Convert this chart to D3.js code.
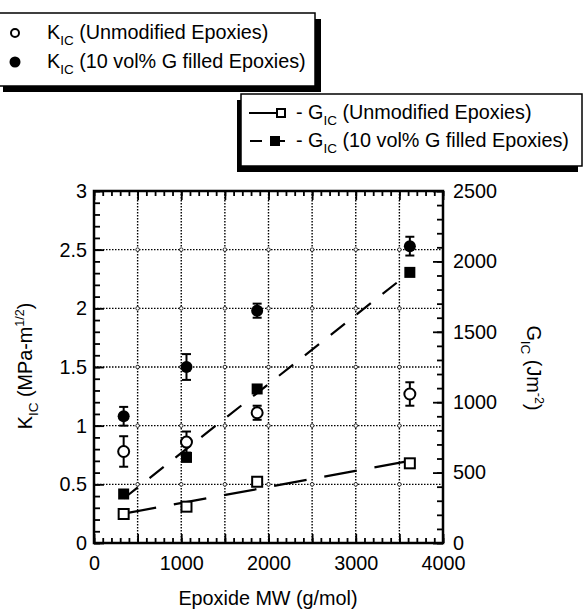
<!DOCTYPE html>
<html lang="en">
<head>
<meta charset="utf-8">
<title>KIC and GIC vs Epoxide MW</title>
<style>
  body { margin: 0; background: #fff; }
  text { font-family: "Liberation Sans", Arial, Helvetica, sans-serif; fill: #000; }
</style>
</head>
<body>
<div id="chart"></div>
<script src="https://cdnjs.cloudflare.com/ajax/libs/d3/7.8.5/d3.min.js"></script>
<script type="text/javascript">

    // epoxide molecular weight (g/mol)
    var epoxideMW = [340, 1060, 1870, 3620];

    // K_IC (MPa m^1/2) with error bars
    var kicUnmod = [0.78, 0.86, 1.11, 1.27];
    var kicUnmodErr = [0.13, 0.09, 0.06, 0.10];
    var kicFilled = [1.08, 1.50, 1.98, 2.53];
    var kicFilledErr = [0.08, 0.11, 0.06, 0.08];

    // G_IC (J m^-2)
    var gicUnmod = [206, 258, 435, 566];
    var gicFilled = [348, 608, 1094, 1922];

    var xTicks = [0, 1000, 2000, 3000, 4000];
    var kTicks = [0, 0.5, 1, 1.5, 2, 2.5, 3];
    var gTicks = [0, 500, 1000, 1500, 2000, 2500];

    var W = 583, H = 615;
    var plotL = 94, plotR = 443, plotT = 191, plotB = 543;
    var fontSize = 19.8;

    var svg = d3.select("#chart").append("svg")
                .attr("width", W)
                .attr("height", H);

    var x = d3.scaleLinear().domain([0, 4000]).range([plotL, plotR]);
    var yK = d3.scaleLinear().domain([0, 3]).range([plotB, plotT]);
    var yG = d3.scaleLinear().domain([0, 2500]).range([plotB, plotT]);

    //Grid
    var gridX = d3.range(500, 4000, 500);
    var gridY = kTicks.slice(1, -1);
    svg.append("g").selectAll("line").data(gridX).enter().append("line")
       .attr("x1", function(d){return x(d);})
       .attr("x2", function(d){return x(d);})
       .attr("y1", plotT).attr("y2", plotB)
       .attr("stroke", "#000").attr("stroke-width", 1.4)
       .attr("stroke-dasharray", "1.5,1.5");
    svg.append("g").selectAll("line").data(gridY).enter().append("line")
       .attr("y1", function(d){return yK(d);})
       .attr("y2", function(d){return yK(d);})
       .attr("x1", plotL).attr("x2", plotR)
       .attr("stroke", "#000").attr("stroke-width", 1.4)
       .attr("stroke-dasharray", "1.5,1.5");
    var nodes = [];
    gridX.forEach(function(a){ gridY.forEach(function(b){ nodes.push([a, b]); }); });
    svg.append("g").selectAll("circle").data(nodes).enter().append("circle")
       .attr("cx", function(d){return x(d[0]);})
       .attr("cy", function(d){return yK(d[1]);})
       .attr("r", 1.8)
       .attr("fill", "#fff").attr("stroke", "#000").attr("stroke-width", 0.8);

    //Axes (ticks pointing inward)
    function styleAxis(g){
        g.select(".domain").remove();
        g.selectAll("line").attr("stroke", "#000").attr("stroke-width", 1.8);
        g.selectAll("text").attr("font-size", fontSize)
         .attr("font-family", "Liberation Sans, Arial, Helvetica, sans-serif");
    }
    var minorX = d3.range(0, 4001, 100);
    var majorX = d3.range(0, 4001, 500);
    var minorK = d3.range(0, 31, 1).map(function(d){return d / 10;});
    var minorG = d3.range(0, 2501, 100);

    svg.append("g").attr("transform", "translate(0," + plotB + ")")
       .call(d3.axisBottom(x).tickValues(minorX).tickSize(-5).tickFormat(""))
       .call(styleAxis);
    svg.append("g").attr("transform", "translate(0," + plotB + ")")
       .call(d3.axisBottom(x).tickValues(majorX).tickSize(-9).tickPadding(13)
             .tickFormat(function(d){ return xTicks.indexOf(d) >= 0 ? d : ""; }))
       .call(styleAxis);
    svg.append("g").attr("transform", "translate(0," + plotT + ")")
       .call(d3.axisTop(x).tickValues(minorX).tickSize(-5).tickFormat(""))
       .call(styleAxis);
    svg.append("g").attr("transform", "translate(0," + plotT + ")")
       .call(d3.axisTop(x).tickValues(majorX).tickSize(-9).tickFormat(""))
       .call(styleAxis);

    svg.append("g").attr("transform", "translate(" + plotL + ",0)")
       .call(d3.axisLeft(yK).tickValues(minorK).tickSize(-6).tickFormat(""))
       .call(styleAxis);
    svg.append("g").attr("transform", "translate(" + plotL + ",0)")
       .call(d3.axisLeft(yK).tickValues(kTicks).tickSize(-10).tickPadding(7)
             .tickFormat(function(d){ return d; }))
       .call(styleAxis);

    svg.append("g").attr("transform", "translate(" + plotR + ",0)")
       .call(d3.axisRight(yG).tickValues(minorG).tickSize(-6).tickFormat(""))
       .call(styleAxis);
    svg.append("g").attr("transform", "translate(" + plotR + ",0)")
       .call(d3.axisRight(yG).tickValues(gTicks).tickSize(-10).tickPadding(10)
             .tickFormat(function(d){ return d; }))
       .call(styleAxis);

    svg.append("rect")
       .attr("x", plotL).attr("y", plotT)
       .attr("width", plotR - plotL).attr("height", plotB - plotT)
       .attr("fill", "none").attr("stroke", "#000").attr("stroke-width", 2.5);

    //Linear fits of G_IC
    function fit(xs, ys){
        var mx = d3.mean(xs), my = d3.mean(ys), sxy = 0, sxx = 0;
        xs.forEach(function(v, i){ sxy += (v - mx) * (ys[i] - my); sxx += (v - mx) * (v - mx); });
        var b = sxy / sxx;
        return function(v){ return my + b * (v - mx); };
    }
    var fitUnmod = fit(epoxideMW, gicUnmod);
    var fitFilled = fit(epoxideMW, gicFilled);
    var x0 = epoxideMW[0], x1 = epoxideMW[epoxideMW.length - 1];

    svg.append("line")
       .attr("x1", x(x0)).attr("y1", yG(fitUnmod(x0)))
       .attr("x2", x(x1)).attr("y2", yG(fitUnmod(x1)))
       .attr("stroke", "#000").attr("stroke-width", 2.2)
       .attr("stroke-dasharray", "33,18");
    svg.append("line")
       .attr("x1", x(x0)).attr("y1", yG(fitFilled(x0)))
       .attr("x2", x(x1)).attr("y2", yG(fitFilled(x1)))
       .attr("stroke", "#000").attr("stroke-width", 2.2)
       .attr("stroke-dasharray", "18,15");

    //Error bars
    function errorBars(vals, errs){
        var g = svg.append("g");
        var d = vals.map(function(v, i){ return {x: epoxideMW[i], y: v, e: errs[i]}; });
        g.selectAll("line.v").data(d).enter().append("line")
         .attr("x1", function(p){return x(p.x);}).attr("x2", function(p){return x(p.x);})
         .attr("y1", function(p){return yK(p.y - p.e);}).attr("y2", function(p){return yK(p.y + p.e);})
         .attr("stroke", "#000").attr("stroke-width", 2);
        [-1, 1].forEach(function(s){
            g.selectAll("line.c" + s).data(d).enter().append("line")
             .attr("x1", function(p){return x(p.x) - 4.5;}).attr("x2", function(p){return x(p.x) + 4.5;})
             .attr("y1", function(p){return yK(p.y + s * p.e);}).attr("y2", function(p){return yK(p.y + s * p.e);})
             .attr("stroke", "#000").attr("stroke-width", 2);
        });
    }
    errorBars(kicUnmod, kicUnmodErr);
    errorBars(kicFilled, kicFilledErr);

    //Points
    svg.append("g").selectAll("circle").data(kicUnmod).enter().append("circle")
       .attr("cx", function(d, i){return x(epoxideMW[i]);})
       .attr("cy", function(d){return yK(d);})
       .attr("r", 5.5)
       .attr("fill", "#fff").attr("stroke", "#000").attr("stroke-width", 2);
    svg.append("g").selectAll("circle").data(kicFilled).enter().append("circle")
       .attr("cx", function(d, i){return x(epoxideMW[i]);})
       .attr("cy", function(d){return yK(d);})
       .attr("r", 6)
       .attr("fill", "#000");
    svg.append("g").selectAll("rect").data(gicUnmod).enter().append("rect")
       .attr("x", function(d, i){return x(epoxideMW[i]) - 5;})
       .attr("y", function(d){return yG(d) - 5;})
       .attr("width", 10).attr("height", 10)
       .attr("fill", "#fff").attr("stroke", "#000").attr("stroke-width", 2);
    svg.append("g").selectAll("rect").data(gicFilled).enter().append("rect")
       .attr("x", function(d, i){return x(epoxideMW[i]) - 5.5;})
       .attr("y", function(d){return yG(d) - 5.5;})
       .attr("width", 11).attr("height", 11)
       .attr("fill", "#000");

    //Axis titles
    function subText(t, parts){
        parts.forEach(function(p){
            t.append("tspan").text(p[0])
             .attr("font-size", p[1])
             .attr("dy", p[2]);
        });
        return t;
    }
    subText(svg.append("text")
               .attr("transform", "translate(32,366) rotate(-90)")
               .attr("text-anchor", "middle"),
            [["K", fontSize, 0], ["IC", 13.5, 6], [" (MPa-m", fontSize, -6], ["1/2", 12.5, -8], [")", fontSize, 8]]);
    subText(svg.append("text")
               .attr("transform", "translate(527,368) rotate(90)")
               .attr("text-anchor", "middle"),
            [["G", fontSize, 0], ["IC", 13.5, 6], [" (Jm", fontSize, -6], ["-2", 12.5, -8], [")", fontSize, 8]]);
    svg.append("text")
       .attr("x", 268).attr("y", 605)
       .attr("text-anchor", "middle")
       .attr("font-size", fontSize)
       .text("Epoxide MW (g/mol)");

    //Legend 1 (K_IC)
    svg.append("rect").attr("x", 3).attr("y", 19).attr("width", 318).attr("height", 73).attr("fill", "#000");
    svg.append("rect").attr("x", -3).attr("y", 13).attr("width", 318).attr("height", 73)
       .attr("fill", "#fff").attr("stroke", "#000").attr("stroke-width", 1.5);
    svg.append("circle").attr("cx", 15).attr("cy", 33).attr("r", 4)
       .attr("fill", "#fff").attr("stroke", "#000").attr("stroke-width", 2);
    svg.append("circle").attr("cx", 15).attr("cy", 62).attr("r", 5.5).attr("fill", "#000");
    subText(svg.append("text").attr("x", 47).attr("y", 39),
            [["K", fontSize, 0], ["IC", 13.5, 6], [" (Unmodified Epoxies)", fontSize, -6]]);
    subText(svg.append("text").attr("x", 47).attr("y", 68),
            [["K", fontSize, 0], ["IC", 13.5, 6], [" (10 vol% G filled Epoxies)", fontSize, -6]]);

    //Legend 2 (G_IC)
    svg.append("rect").attr("x", 237).attr("y", 100).attr("width", 341).attr("height", 72).attr("fill", "#000");
    svg.append("rect").attr("x", 241).attr("y", 94).attr("width", 341).attr("height", 72)
       .attr("fill", "#fff").attr("stroke", "#000").attr("stroke-width", 1.5);
    svg.append("line").attr("x1", 249).attr("x2", 277).attr("y1", 113).attr("y2", 113)
       .attr("stroke", "#000").attr("stroke-width", 2);
    svg.append("rect").attr("x", 277).attr("y", 109).attr("width", 8).attr("height", 8)
       .attr("fill", "#fff").attr("stroke", "#000").attr("stroke-width", 2);
    svg.append("line").attr("x1", 250).attr("x2", 262).attr("y1", 141).attr("y2", 141)
       .attr("stroke", "#000").attr("stroke-width", 2);
    svg.append("line").attr("x1", 270).attr("x2", 285).attr("y1", 141).attr("y2", 141)
       .attr("stroke", "#000").attr("stroke-width", 2);
    svg.append("rect").attr("x", 270).attr("y", 136).attr("width", 10).attr("height", 10).attr("fill", "#000");
    subText(svg.append("text").attr("x", 296).attr("y", 119),
            [["- G", fontSize, 0], ["IC", 13.5, 6], [" (Unmodified Epoxies)", fontSize, -6]]);
    subText(svg.append("text").attr("x", 296).attr("y", 147),
            [["- G", fontSize, 0], ["IC", 13.5, 6], [" (10 vol% G filled Epoxies)", fontSize, -6]]);

</script>
</body>
</html>
